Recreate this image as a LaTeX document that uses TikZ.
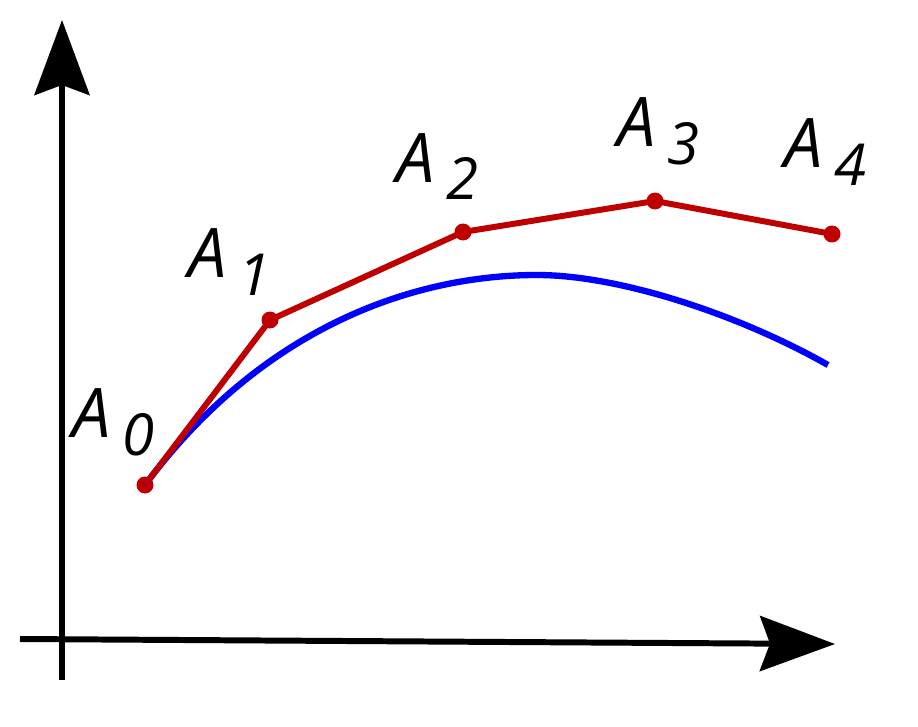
\documentclass[tikz,border=0pt]{standalone}
\usepackage{fontspec}
\setmainfont{Open Sans}
\usetikzlibrary{arrows.meta}
\definecolor{polyred}{RGB}{190,0,0}
\definecolor{curveblue}{RGB}{0,0,255}
\newcommand{\ptlabel}[1]{\itshape A\hspace{0.17em}\raisebox{-0.36cm}{\fontsize{33}{33}\selectfont #1}}
\begin{document}
\begin{tikzpicture}[x=0.02cm, y=-0.02cm]
          \useasboundingbox (0,0) rectangle (918,726);
          \tikzset{
            axis/.style={line width=3.4pt, -{Stealth[length=1.5cm, width=1.1cm, inset=0.2cm]}},
            dot/.style={circle, fill=polyred, inner sep=0pt, minimum size=0.34cm},
            lbl/.style={anchor=base west, inner sep=0pt, font=\fontsize{39}{39}\selectfont}
          }
          % Axes
          \coordinate (ybot) at (62,680);
          \coordinate (ytop) at (62,20);
          \coordinate (xleft) at (20,639);
          \coordinate (xright) at (835,644);
          \draw[axis] (ybot) -- (ytop);
          \draw[axis] (xleft) -- (xright);

          % Control points
          \node[dot] (a0) at (145,485) {};
          \node[dot] (a1) at (270,320) {};
          \node[dot] (a2) at (463,232) {};
          \node[dot] (a3) at (655,201) {};
          \node[dot] (a4) at (832,234) {};

          % Labels
          \node[lbl] (l0) at (72,437) {\ptlabel{0}};
          \node[lbl] (l1) at (188,277) {\ptlabel{1}};
          \node[lbl] (l2) at (396,182) {\ptlabel{2}};
          \node[lbl] (l3) at (617,147) {\ptlabel{3}};
          \node[lbl] (l4) at (784,168) {\ptlabel{4}};

          % Curve
          \coordinate (top) at (537,275);
          \coordinate (cend) at (828,365);
          \draw[curveblue, line width=3.6pt] (a0.center) .. controls (260,330) and (410,275) .. (top)
                .. controls (620,275) and (740,315) .. (cend);

          % Control polygon
          \draw[polyred, line width=3.4pt, line join=round] (a0.center) -- (a1.center) -- (a2.center) -- (a3.center) -- (a4.center);
\end{tikzpicture}
\end{document}
